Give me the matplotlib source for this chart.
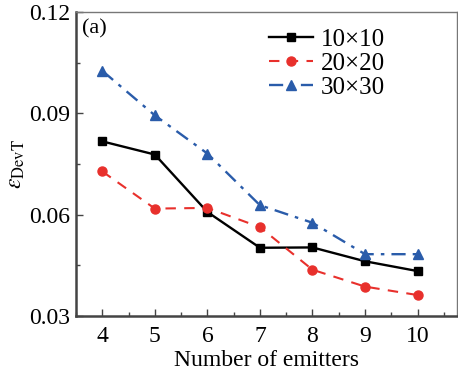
import matplotlib
matplotlib.use("Agg")
import matplotlib.pyplot as plt
from matplotlib.ticker import MultipleLocator

emitters = [4, 5, 6, 7, 8, 9, 10]
err_10x10 = [0.0817, 0.0778, 0.0608, 0.0502, 0.0503, 0.0462, 0.0433]
err_20x20 = [0.0728, 0.0618, 0.0620, 0.0563, 0.0437, 0.0387, 0.0362]
err_30x30 = [0.1026, 0.0894, 0.0781, 0.0628, 0.0576, 0.0483, 0.0483]
labels = ["10\u00d710", "20\u00d720", "30\u00d730"]
yticks = [0.03, 0.06, 0.09, 0.12]

plt.rcParams["font.family"] = ["Liberation Serif", "DejaVu Serif"]
plt.rcParams["mathtext.fontset"] = "stix"

fig = plt.figure(figsize=(4.58, 3.73), dpi=100)
ax = fig.add_axes([76 / 458, 1 - 316 / 373, (457 - 76) / 458, (316 - 12) / 373])

ax.plot(emitters, err_10x10, color="black", linestyle="-", linewidth=1.7,
        marker="s", markersize=6, label=labels[0])
ax.plot(emitters, err_20x20, color="#e8302c", linestyle=(0, (5, 4)), linewidth=1.5,
        marker="o", markersize=6.5, label=labels[1])
ax.plot(emitters, err_30x30, color="#2a5caa", linestyle=(0, (6, 3, 1.5, 3)), linewidth=1.7,
        marker="^", markersize=7, label=labels[2])

ax.set_xlim(3.5, 10.75)
ax.set_ylim(0.03, 0.12)
ax.xaxis.set_major_locator(MultipleLocator(1))
ax.xaxis.set_minor_locator(MultipleLocator(0.5))
ax.set_yticks(yticks)
ax.set_yticklabels([f"{v:.2f}" for v in yticks])
ax.yaxis.set_minor_locator(MultipleLocator(0.015))

ax.tick_params(which="both", direction="in", labelsize=17, color="#444444")
ax.tick_params(which="major", length=5, width=1)
ax.tick_params(which="minor", length=3, width=1)
ax.tick_params(axis="x", pad=7)
ax.tick_params(axis="y", pad=4)

for side in ("left", "bottom"):
    ax.spines[side].set_linewidth(1.8)
    ax.spines[side].set_color("#444444")
for side in ("top", "right"):
    ax.spines[side].set_linewidth(1.0)
    ax.spines[side].set_color("#777777")

ax.set_xlabel("Number of emitters", fontsize=17, labelpad=2)
ax.set_ylabel(r"$\varepsilon_{\rm DevT}$", fontsize=17, labelpad=2)

ax.text(0.015, 0.975, "(a)", transform=ax.transAxes, fontsize=16, va="top", ha="left")

ax.legend(loc="upper right", bbox_to_anchor=(0.85, 0.995), frameon=False, fontsize=18,
          handlelength=1.75, handletextpad=0.3, labelspacing=0.05, borderaxespad=0.2)

fig.savefig("out.png", dpi=100)
